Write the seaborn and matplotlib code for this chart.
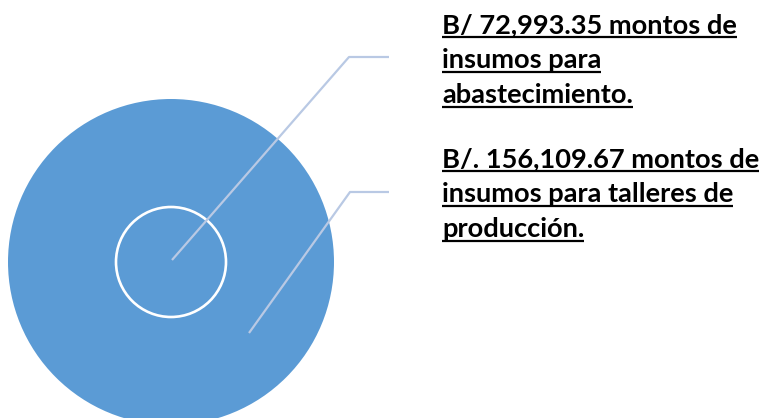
import matplotlib
matplotlib.use("Agg")
import matplotlib.pyplot as plt
import seaborn as sns
import pandas as pd

# ---- data ----
categories = ["insumos para talleres de producción", "insumos para abastecimiento"]
values = [156109.67, 72993.35]
label_blocks = [
    ["B/ 72,993.35 montos de", "insumos para", "abastecimiento."],
    ["B/. 156,109.67 montos de", "insumos para talleres de", "producción."],
]

sns.set_theme(style="white")
plt.rcParams["font.family"] = ["Lato", "DejaVu Sans"]

W, H, DPI = 772, 418, 100
fig = plt.figure(figsize=(W / DPI, H / DPI), dpi=DPI)
ax = fig.add_axes([0, 0, 1, 1])
ax.set_xlim(0, W)
ax.set_ylim(H, 0)
ax.axis("off")

blue = "#5b9bd5"
df = pd.DataFrame({"cat": categories, "value": values,
                   "x": [171, 171], "y": [262, 262]})
df = df.sort_values("value", ascending=False).reset_index(drop=True)

def pt2(px):
    return (px * 72 / DPI) ** 2

sns.scatterplot(data=df, x="x", y="y", size="value",
                sizes=(pt2(110), pt2(326)), color=blue,
                edgecolor=["none", "white"], linewidth=[0, 1.9],
                legend=False, ax=ax, zorder=2)

line_col = "#b9c9e4"
# leader lines: anchor (inside circle) -> elbow -> end
leaders = [
    [(172, 260), (349, 57), (389, 57)],
    [(249, 333), (350, 192), (389, 192)],
]
for pts in leaders:
    xs, ys = zip(*pts)
    ax.plot(xs, ys, color=line_col, lw=1.6, zorder=3, solid_capstyle="butt")

# labels with underline
fig.canvas.draw()
renderer = fig.canvas.get_renderer()
fs = 19.6
tops = [33, 167]
spacing = 35
for block, base in zip(label_blocks, tops):
    for i, line in enumerate(block):
        yb = base + i * spacing
        t = ax.text(442, yb, line, fontsize=fs, fontweight="bold",
                    color="black", ha="left", va="baseline", zorder=4)
        bb = t.get_window_extent(renderer)
        x0, x1 = bb.x0, bb.x1
        ax.plot([x0, x1], [yb + 4, yb + 4], color="black", lw=1.6,
                zorder=4, solid_capstyle="butt")

fig.savefig("out.png", dpi=DPI)
